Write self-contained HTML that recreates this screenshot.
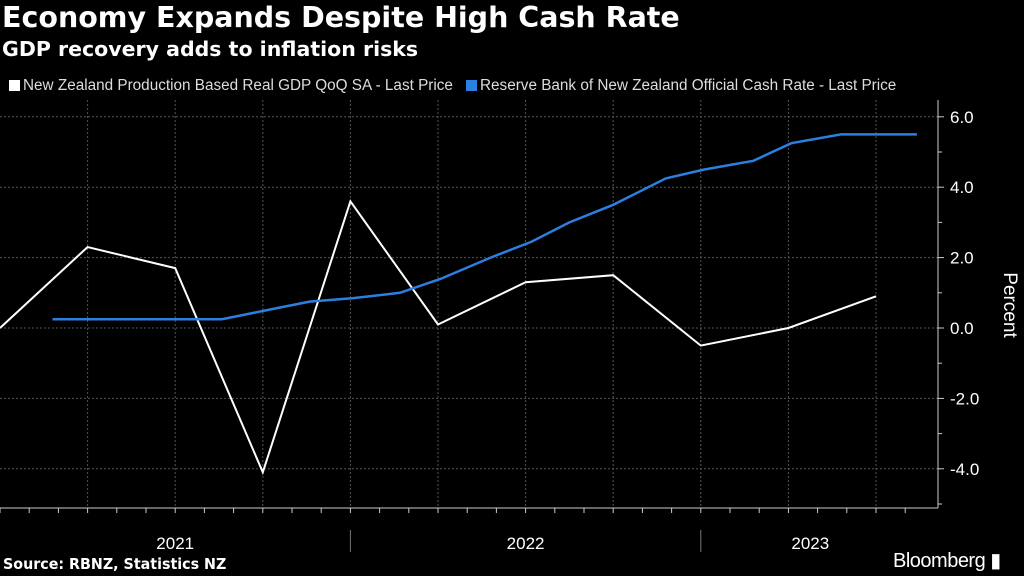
<!DOCTYPE html>
<html><head><meta charset="utf-8"><style>
body{margin:0;background:#000;width:1024px;height:576px;overflow:hidden;font-family:"Liberation Sans",sans-serif;color:#fff}
#title{position:absolute;left:2px;top:1px;font:bold 28.5px "DejaVu Sans",sans-serif;white-space:nowrap}
#sub{position:absolute;left:2px;top:37px;font:bold 20.5px "DejaVu Sans",sans-serif;white-space:nowrap}
.leg{position:absolute;top:77px;font-size:15.3px;white-space:nowrap;color:#ddd}
.sw{display:inline-block;width:11px;height:11px;margin-right:3px;vertical-align:-1px}
#src{position:absolute;left:3px;top:555px;font:bold 15.5px "DejaVu Sans",sans-serif;transform:scaleX(0.92);transform-origin:left}
#bb{position:absolute;left:893px;top:548px;font-size:20px;letter-spacing:-0.5px}
</style></head><body>
<div id="title">Economy Expands Despite High Cash Rate</div>
<div id="sub">GDP recovery adds to inflation risks</div>
<div class="leg" style="left:9px"><span class="sw" style="background:#fff"></span>New Zealand Production Based Real GDP QoQ SA - Last Price</div>
<div class="leg" style="left:466px"><span class="sw" style="background:#2a7fe0"></span>Reserve Bank of New Zealand Official Cash Rate - Last Price</div>
<svg id="chart" width="1024" height="576" style="position:absolute;left:0;top:0"></svg>
<div id="src">Source: RBNZ, Statistics NZ</div>
<div id="bb">Bloomberg ▮</div>
<script>
const gdpMonths=[0,3,6,9,12,15,18,21,24,27,30];
const gdpValues=[0.0,2.3,1.7,-4.1,3.6,0.1,1.3,1.5,-0.5,0.0,0.9];
const cashMonths=[1.8,7.6,9.1,10.6,12.1,13.7,15.1,16.8,18.2,19.5,21,22.8,24.1,25.8,27.1,28.8,31.4];
const cashValues=[0.25,0.25,0.5,0.75,0.85,1.0,1.4,2.0,2.45,3.0,3.5,4.25,4.5,4.75,5.25,5.5,5.5];
const yTicks=[6,4,2,0,-2,-4];
const yearLabels=["2021","2022","2023"];
const yearStarts=[0,12,24];
const NS="http://www.w3.org/2000/svg";
const svg=document.getElementById('chart');
const xS=m=>m*29.2;
const yS=v=>328-v*35.2;
function mk(t,a){const e=document.createElementNS(NS,t);for(const k in a)e.setAttribute(k,a[k]);svg.appendChild(e);return e;}
for(let q=3;q<=30;q+=3){const l=mk('line',{x1:xS(q),x2:xS(q),y1:100,y2:508,stroke:'#555','stroke-dasharray':'2,2','stroke-width':1});

}
for(const v of yTicks){const l=mk('line',{x1:0,x2:938,y1:yS(v),y2:yS(v),stroke:'#555','stroke-dasharray':'2,2','stroke-width':1});


const t=mk('text',{x:950,y:yS(v)+6,fill:'#fff','font-size':17,'font-family':'Liberation Sans, sans-serif'});t.textContent=v.toFixed(1);


mk('line',{x1:938,x2:944,y1:yS(v),y2:yS(v),stroke:'#ccc'});}
for(let v=-5;v<=5;v+=2){mk('line',{x1:938,x2:942,y1:yS(v),y2:yS(v),stroke:'#ccc'});}
const ya=mk('line',{x1:938,x2:938,y1:100,y2:508,stroke:'#ccc'});


const xa=mk('line',{x1:0,x2:938,y1:508,y2:508,stroke:'#ccc'});


for(let m=0;m<=31.5;m++){mk('line',{x1:xS(m),x2:xS(m),y1:508,y2:513,stroke:'#ccc'});}
yearLabels.forEach((y,i)=>{const c=i<2?xS(yearStarts[i]+6):(xS(24)+xS(31.5))/2;
const t=mk('text',{x:c,y:549,fill:'#fff','font-size':17,'text-anchor':'middle','font-family':'Liberation Sans, sans-serif'});t.textContent=y;


if(i>0)mk('line',{x1:xS(yearStarts[i]),x2:xS(yearStarts[i]),y1:530,y2:552,stroke:'#777'});});
const yt=mk('text',{x:0,y:0,fill:'#fff','font-size':19,'text-anchor':'middle','font-family':'Liberation Sans, sans-serif',transform:'translate(1004,305) rotate(90)'});yt.textContent='Percent';


const g=mk('polyline',{points:gdpMonths.map((m,i)=>xS(m)+','+yS(gdpValues[i])).join(' '),fill:'none',stroke:'#fff','stroke-width':2});


const c=mk('polyline',{points:cashMonths.map((m,i)=>xS(m)+','+yS(cashValues[i])).join(' '),fill:'none',stroke:'#2a7fe0','stroke-width':2.5});


</script>
</body></html>
